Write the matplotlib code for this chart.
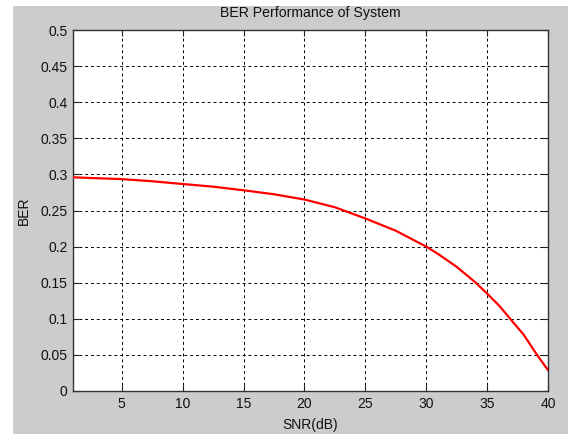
import matplotlib
matplotlib.use("Agg")
import matplotlib.pyplot as plt
from matplotlib.patches import Rectangle

# values
snr_db = [1, 2.5, 5, 7.5, 10, 12.5, 15, 17.5, 20, 22.5, 25, 27.5, 30, 31,
          32.5, 34, 35, 36, 36.9, 38, 39.1, 40]
ber = [0.296, 0.295, 0.2935, 0.2905, 0.2867, 0.283, 0.278, 0.2725, 0.2652,
       0.2545, 0.239, 0.222, 0.2, 0.1895, 0.172, 0.151, 0.135, 0.118, 0.1,
       0.078, 0.05, 0.029]

x_ticks = [5, 10, 15, 20, 25, 30, 35, 40]
y_ticks = [0, 0.05, 0.1, 0.15, 0.2, 0.25, 0.3, 0.35, 0.4, 0.45, 0.5]
y_labels = ["0", "0.05", "0.1", "0.15", "0.2", "0.25", "0.3", "0.35", "0.4", "0.45", "0.5"]

plt.rcParams["font.family"] = ["Liberation Sans", "DejaVu Sans"]
plt.rcParams["font.size"] = 10

fig = plt.figure(figsize=(5.68, 4.34), dpi=100, facecolor="white")
# MATLAB-style grey figure panel with a thin white margin
fig.patches.append(Rectangle((13 / 568, 0), 1 - 13 / 568, 428 / 434,
                             transform=fig.transFigure, facecolor="#cccccc",
                             edgecolor="none", zorder=-10))

ax = fig.add_axes([73 / 568, 43 / 434, 475 / 568, 361 / 434])
ax.set_facecolor("white")
ax.plot(snr_db, ber, color="red", linewidth=1.6, zorder=3)

ax.set_xlim(1, 40)
ax.set_ylim(0, 0.5)
ax.set_xticks(x_ticks)
ax.set_yticks(y_ticks)
ax.set_yticklabels(y_labels)

ax.grid(True, color="black", linestyle=(0, (3, 3)), linewidth=0.7)
ax.tick_params(direction="in", top=True, right=True, length=4, width=0.8,
               colors="#222222", labelcolor="#111111", pad=4, labelsize=10)
for spine in ax.spines.values():
    spine.set_color("#333333")
    spine.set_linewidth(1.0)

ax.set_title("BER Performance of System", fontsize=10.2, pad=9, color="#111111")
ax.set_xlabel("SNR(dB)", labelpad=5, color="#111111")
ax.set_ylabel("BER", labelpad=7, color="#111111")

fig.savefig("out.png", dpi=100, facecolor=fig.get_facecolor())
